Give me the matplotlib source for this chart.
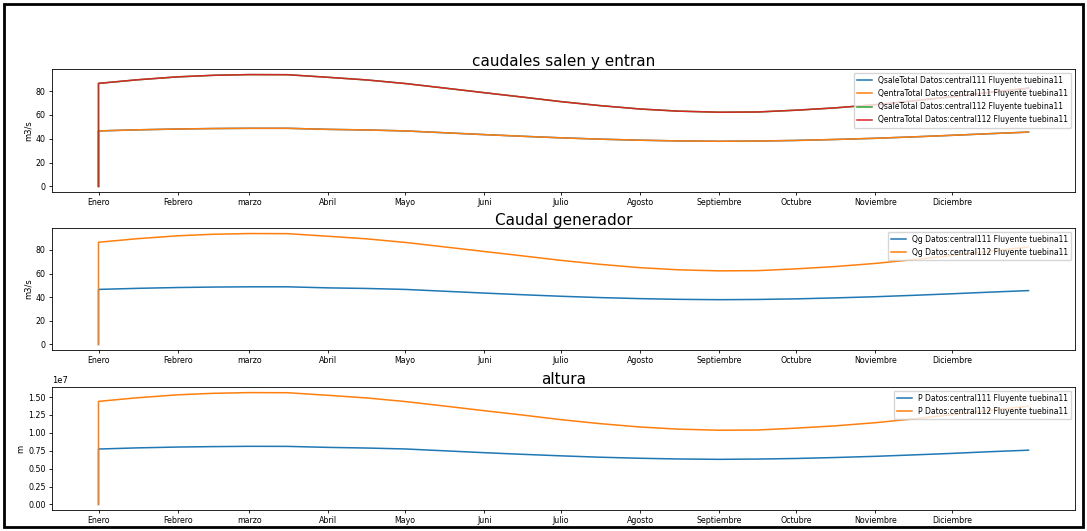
import numpy as np
import matplotlib
matplotlib.use("Agg")
import matplotlib.pyplot as plt
from matplotlib.patches import Rectangle

# fechas: un punto inicial repetido (valor 0) y luego cada quincena
fechas = np.array([
    "2021-01-01", "2021-01-01", "2021-01-16", "2021-02-01", "2021-02-15",
    "2021-03-01", "2021-03-16", "2021-04-01", "2021-04-16", "2021-05-01",
    "2021-05-16", "2021-06-01", "2021-06-16", "2021-07-01", "2021-07-16",
    "2021-08-01", "2021-08-16", "2021-09-01", "2021-09-16", "2021-10-01",
    "2021-10-16", "2021-11-01", "2021-11-16", "2021-12-01", "2021-12-16",
    "2021-12-31"], dtype="datetime64[D]")

q_central111 = [0, 46.6, 47.5, 48.2, 48.6, 48.8, 48.8, 47.9, 47.4, 46.6,
                45.1, 43.5, 42.1, 40.8, 39.7, 38.8, 38.2, 37.9, 38.1, 38.6,
                39.4, 40.4, 41.6, 42.9, 44.3, 45.6]
q_central112 = [0, 86.5, 89.5, 92.0, 93.3, 93.9, 93.8, 91.6, 89.4, 86.4,
                82.7, 78.7, 75.0, 71.2, 67.9, 65.0, 63.2, 62.3, 62.5, 64.0,
                65.9, 68.6, 71.8, 75.3, 79.0, 82.5]
p_central111 = [0, 0.774, 0.790, 0.802, 0.808, 0.812, 0.811, 0.797, 0.788, 0.775,
                0.750, 0.723, 0.700, 0.679, 0.660, 0.645, 0.635, 0.630, 0.634, 0.642,
                0.655, 0.672, 0.692, 0.713, 0.737, 0.758]
p_central112 = [0, 1.440, 1.490, 1.532, 1.553, 1.563, 1.561, 1.525, 1.488, 1.438,
                1.377, 1.310, 1.249, 1.185, 1.130, 1.082, 1.052, 1.037, 1.040, 1.066,
                1.097, 1.142, 1.195, 1.254, 1.315, 1.373]

meses = ["Enero", "Febrero", "marzo", "Abril", "Mayo", "Juni", "Julio",
         "Agosto", "Septiembre", "Octubre", "Noviembre", "Diciembre"]
inicio_mes = np.arange("2021-01", "2022-01", dtype="datetime64[M]").astype("datetime64[D]")

sufijo = " Fluyente tuebina11"

fig = plt.figure(figsize=(10.87, 5.31), dpi=100)
W, H = 1087, 531

def caja(top, bottom, left=52, right=1075):
    return [left / W, 1 - bottom / H, (right - left) / W, (bottom - top) / H]

ax1 = fig.add_axes(caja(69, 192))
ax2 = fig.add_axes(caja(228, 350))
ax3 = fig.add_axes(caja(387, 510))

lw = 1.1
ax1.plot(fechas, q_central111, color="C0", lw=lw, label="QsaleTotal Datos:central111" + sufijo)
ax1.plot(fechas, q_central111, color="C1", lw=lw, label="QentraTotal Datos:central111" + sufijo)
ax1.plot(fechas, q_central112, color="C2", lw=lw, label="QsaleTotal Datos:central112" + sufijo)
ax1.plot(fechas, q_central112, color="C3", lw=lw, label="QentraTotal Datos:central112" + sufijo)
ax1.set_title("caudales salen y entran", fontsize=11, pad=2)
ax1.set_ylabel("m3/s", fontsize=6, labelpad=2)

ax2.plot(fechas, q_central111, color="C0", lw=lw, label="Qg Datos:central111" + sufijo)
ax2.plot(fechas, q_central112, color="C1", lw=lw, label="Qg Datos:central112" + sufijo)
ax2.set_title("Caudal generador", fontsize=11, pad=2)
ax2.set_ylabel("m3/s", fontsize=6, labelpad=2)

ax3.plot(fechas, np.array(p_central111) * 1e7, color="C0", lw=lw, label="P Datos:central111" + sufijo)
ax3.plot(fechas, np.array(p_central112) * 1e7, color="C1", lw=lw, label="P Datos:central112" + sufijo)
ax3.set_title("altura", fontsize=11, pad=2)
ax3.set_ylabel("m", fontsize=6, labelpad=2)
ax3.yaxis.get_offset_text().set_fontsize(6)

for ax in (ax1, ax2, ax3):
    ax.set_xticks(inicio_mes)
    ax.set_xticklabels(meses)
    ax.tick_params(labelsize=5.7, length=2.5, width=0.6, pad=2)
    for s in ax.spines.values():
        s.set_linewidth(0.6)
    ax.legend(loc="upper right", fontsize=5.5, handlelength=2, borderpad=0.4,
              labelspacing=0.55)

ax1.set_yticks([0, 20, 40, 60, 80])
ax2.set_yticks([0, 20, 40, 60, 80])

# marco negro de la captura
fig.add_artist(Rectangle((4 / W, 4 / H), 1 - 8 / W, 1 - 8 / H, transform=fig.transFigure,
                         fill=False, edgecolor="black", lw=2))

fig.savefig("out.png", dpi=100)
